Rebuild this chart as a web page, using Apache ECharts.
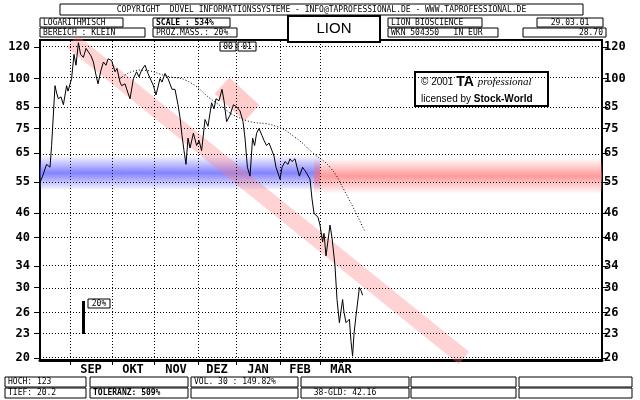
<!DOCTYPE html><html><head><meta charset="utf-8">
<script src="https://cdn.jsdelivr.net/npm/echarts@6/dist/echarts.min.js"></script>
<style>body{margin:0;background:#fff}#c{width:640px;height:400px}</style></head><body><div id="c"></div>
<script>
const monthLabels=['SEP','OKT','NOV','DEZ','JAN','FEB','MÄR'];
const monthStarts=[15,36,57,79,98,120,140,161];
const yTicks=[120,100,85,75,65,55,46,40,34,30,26,23,20];
const price=[[0,55],[1.3,57],[3.3,61],[5,60],[5.8,68],[7.5,96],[8.3,92],[9.2,89],[10.5,90],[11.7,86],[13.3,96],[14,93],[15,94],[15.8,100],[17,115],[18,108],[19.2,123],[20.3,115],[21.7,113],[23,119],[24,118],[25.5,114],[26.7,110],[28,102],[29,97],[30.5,105],[31.7,110],[33,108],[34,112],[35.8,111],[37.5,104],[38.5,106],[40,98],[40.8,96],[42.5,97],[44,92],[45,89],[46.7,100],[48.3,104],[49.5,101],[50.8,105],[52.5,108],[54,103],[55.5,99],[56.7,96],[58,91],[60,100],[61,98],[62.5,103],[64,100],[65,97],[66,94],[67.5,94],[69,86],[70,80],[71,72],[72,66],[73,61],[74,71],[75,67],[76.7,73],[78.3,68],[79.5,70],[80.8,66],[82.5,79],[84,76],[85.8,87],[87,84],[88,89],[89.5,88],[91,94],[92,88],[93.3,78],[95,81],[96.7,86],[98.3,85],[100,83],[101.5,78],[102.5,71],[103.7,60],[105,57],[106.3,71],[107.3,68],[108.3,73],[109.5,75],[111,72],[112,70],[113.3,68],[114.5,69],[116,66],[117,64],[118,60],[119,58],[120,56],[121,60],[122.5,62],[124,61],[125,63],[126,62],[127.5,63],[128.5,60],[129.7,57],[131.3,60],[132.3,59],[133.3,58],[135,56],[136,50],[137,46],[139,45],[140,43],[141.3,39],[142,41],[143,36],[145,43],[146,40],[147.5,34],[148.5,28],[149.7,24.5],[151.3,28],[152,26],[153,24.5],[154.7,25],[155.5,22],[156.3,20.2],[157,23],[158,25.5],[159.7,30],[160.5,29.5],[161.3,28.7]];
const avg=[[40,100],[50,105],[65,101],[73,99],[88,87],[101.7,79],[118,76],[128,71],[136.7,65],[145,60],[151.7,53],[162.5,41.4]];
const trendMain=[[16,124],[212,20]];
const trendShort=[[91,96],[106,82]];
const blueBand=[[0,58.6],[140,58.6]];
const redBand=[[137,57.5],[281,57.5]];
const L=v=>Math.log(v);
const tr=a=>a.map(p=>[p[0],L(p[1])]);
const mono='DejaVu Sans Mono';
function box(x,y,w,h,t,opt){opt=opt||{};return [{type:'rect',shape:{x:x,y:y,width:w,height:h},style:{fill:'#fff',stroke:'#000',lineWidth:opt.lw||1}},
 {type:'text',x:opt.right?x+w-3:(opt.center?x+w/2:x+3),y:y+h/2,style:{text:t,fill:'#000',font:(opt.bold?'bold ':'')+(opt.fs||8)+'px '+(opt.ff||mono),align:opt.right?'right':(opt.center?'center':'left'),verticalAlign:'middle'}}];}
let g=[];
g.push(...box(60,4,523,11,'COPYRIGHT  DÜVEL INFORMATIONSSYSTEME - INFO@TAPROFESSIONAL.DE - WWW.TAPROFESSIONAL.DE',{center:true}));
g.push(...box(40,18,83,9,'LOGARITHMISCH'));
g.push(...box(40,28,105,9,'BEREICH : KLEIN'));
g.push(...box(153,18,77,9,'SCALE : 534%',{bold:true}));
g.push(...box(153,28,84,9,'PROZ.MASS.: 20%'));
g.push(...box(288,16,92,26,'LION',{center:true,fs:15,ff:'Liberation Sans',lw:2}));
g.push(...box(388,18,94,9,'LION BIOSCIENCE'));
g.push(...box(388,28,110,9,'WKN 504350   IN EUR'));
g.push(...box(537,18,66,9,'29.03.01',{center:true}));
g.push(...box(523,28,83,9,'28.70',{right:true}));
g.push(...box(220,42,16,9,'00',{center:true}));
g.push(...box(238,42,18,9,'01',{center:true}));
g.push(...box(88,299,22,9,'20%',{center:true}));
g.push({type:'rect',shape:{x:82,y:301,width:3,height:33},style:{fill:'#000'}});
g.push({type:'rect',shape:{x:415,y:72,width:133,height:34},style:{fill:'#fff',stroke:'#000',lineWidth:2}});
g.push({type:'text',x:421,y:89,style:{rich:{a:{font:'10px Liberation Sans'},b:{font:'bold 14px Liberation Sans'},c:{font:'italic 11px Liberation Serif'}},text:'{a|© 2001 }{b|TA }{c|professional}',verticalAlign:'bottom',fill:'#000'}});
g.push({type:'text',x:421,y:99,style:{rich:{a:{font:'10px Liberation Sans'},b:{font:'bold 10px Liberation Sans'}},text:'{a|licensed by }{b|Stock-World}',verticalAlign:'middle',fill:'#000'}});
const fcols=[[5,81],[90,98],[191,107],[301,108],[411,105],[519,113]];
const ftext=[['HOCH: 123','TIEF: 20.2'],['','TOLERANZ: 509%'],['VOL. 30 : 149.82%',''],['','  38-GLD: 42.16'],['',''],['','']];
fcols.forEach((c,i)=>{g.push(...box(c[0],377,c[1],10,ftext[i][0],{bold:false}));g.push(...box(c[0],388,c[1],10,ftext[i][1],{bold:i==1}));});
const gridLinesY=yTicks.map(v=>({yAxis:L(v)}));
const gridLinesX=monthStarts.slice(0,7).map(v=>({xAxis:v}));
const labelX=monthStarts.slice(0,7).map((s,i)=>(s+monthStarts[i+1])/2);
function vgrad(y1,y2,r,gg,b,a){return {type:'linear',x:0,y:y1,x2:0,y2:y2,global:true,colorStops:[{offset:0,color:`rgba(${r},${gg},${b},0)`},{offset:0.5,color:`rgba(${r},${gg},${b},${a})`},{offset:1,color:`rgba(${r},${gg},${b},0)`}]};}
const chart=echarts.init(document.getElementById('c'));
const yAx=(pos)=>({type:'value',position:pos,min:L(20)-0.012,max:L(120)+0.04,splitLine:{show:false},
 axisLine:{show:true,lineStyle:{color:'#000',width:2}},
 axisTick:{show:true,customValues:yTicks.map(L),length:6,lineStyle:{color:'#000',width:1}},
 axisLabel:{customValues:yTicks.map(L),formatter:v=>String(Math.round(Math.exp(v))),color:'#000',fontFamily:mono,fontWeight:'bold',fontSize:12,margin:pos=='left'?10:2}});
chart.setOption({animation:false,
 grid:{left:40,right:38,top:40,bottom:40,show:true,borderColor:'#000',borderWidth:2},
 xAxis:{type:'value',min:0,max:281,splitLine:{show:false},axisLine:{lineStyle:{color:'#000',width:3}},
  axisTick:{customValues:monthStarts.slice(0,7),length:5,lineStyle:{color:'#000'}},
  axisLabel:{customValues:labelX,formatter:v=>monthLabels[labelX.indexOf(v)]||'',color:'#000',fontFamily:mono,fontWeight:'bold',fontSize:12,margin:4}},
 yAxis:[yAx('left'),yAx('right')],
 graphic:g,
 series:[
  {type:'line',data:tr(blueBand),symbol:'none',lineStyle:{color:vgrad(155,191,90,90,255,0.75),width:36},z:1,silent:true},
  {type:'line',data:tr(redBand),symbol:'none',lineStyle:{color:vgrad(158,194,255,110,110,0.7),width:36},z:1,silent:true},
  {type:'line',data:tr(trendMain),symbol:'none',lineStyle:{color:'rgba(255,120,120,0.33)',width:16},z:2,silent:true},
  {type:'line',data:tr(trendShort),symbol:'none',lineStyle:{color:'rgba(255,100,100,0.33)',width:22},z:2,silent:true},
  {type:'line',data:[],markLine:{symbol:'none',silent:true,label:{show:false},lineStyle:{color:'#000',type:[1,2],width:1},data:gridLinesY.concat(gridLinesX)},z:3},
  {type:'line',data:tr(avg),symbol:'none',smooth:true,lineStyle:{color:'#000',width:1,type:[1,2]},z:4},
  {type:'line',data:tr(price),symbol:'none',lineStyle:{color:'#000',width:1},z:5}
 ]});
</script></body></html>
